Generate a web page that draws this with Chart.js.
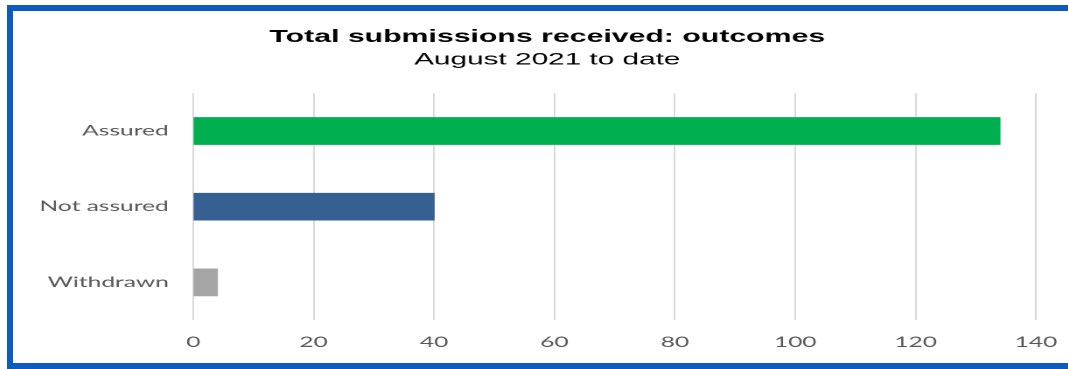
<!DOCTYPE html>
<html>
<head>
<meta charset="utf-8">
<script src="https://cdn.jsdelivr.net/npm/chart.js@4"></script>
<style>
  html, body { margin: 0; padding: 0; background: #fff; overflow: hidden; }
  #frame {
    position: absolute; left: 7px; top: 5px;
    width: 1100px; height: 352px;
    border: 6px solid #0B5CBE; border-right: none;
  }
  /* the source picture is stretched sideways, so the chart is too */
  #wrap {
    position: absolute; left: 0; top: 0;
    width: 603px; height: 352px;
    transform: scaleX(1.75); transform-origin: 0 0;
  }
</style>
</head>
<body>
<div id="frame">
  <div id="wrap"><canvas id="outcomesChart" width="603" height="352"></canvas></div>
</div>
<script>
const categories = ['Assured', 'Not assured', 'Withdrawn'];
const submissions = [134, 40, 4];
const barColours = ['#00B050', '#376092', '#A5A5A5'];

const tickFont = { family: 'Lato, "Open Sans", sans-serif', size: 14 };

// nudge the title block right a little, like the original
const titleShift = {
    id: 'titleShift',
    afterLayout(chart) {
        chart.boxes.forEach(function (box) {
            if (box.position === 'top' && box.options && box.options.text) {
                box.left = 26;
            }
        });
    }
};

const ctx = document.getElementById('outcomesChart').getContext('2d');
const outcomesChart = new Chart(ctx, {
    type: 'bar',
    data: {
        labels: categories,
        datasets: [{
            label: 'Submissions',
            data: submissions,
            backgroundColor: barColours,
            borderWidth: 0,
            barThickness: 27
        }]
    },
    options: {
        indexAxis: 'y',
        responsive: false,
        animation: false,
        devicePixelRatio: 2,
        layout: { padding: { left: 0, right: 18.4, top: 0, bottom: -2 } },
        plugins: {
            legend: { display: false },
            tooltip: { enabled: false },
            title: {
                display: true,
                text: 'Total submissions received: outcomes',
                color: '#000',
                font: { family: '"Liberation Sans", Arial, sans-serif', size: 17.3, weight: 'bold', lineHeight: 1.2 },
                padding: { top: 16, bottom: 0 }
            },
            subtitle: {
                display: true,
                text: 'August 2021 to date',
                color: '#000',
                font: { family: '"Liberation Sans", Arial, sans-serif', size: 17, lineHeight: 1.2 },
                padding: { top: 2, bottom: 23 }
            }
        },
        scales: {
            x: {
                min: 0,
                max: 140,
                ticks: { stepSize: 20, color: '#595959', font: tickFont, padding: 14 },
                grid: { color: '#D9D9D9', lineWidth: 1, drawTicks: false },
                border: { display: false },
                afterFit: function (scale) { scale.paddingLeft = 0; scale.paddingRight = 0; }
            },
            y: {
                ticks: { color: '#595959', font: tickFont, padding: 14 },
                grid: { display: false, drawTicks: false },
                border: { display: false },
                afterFit: function (scale) { scale.width = 103; }
            }
        }
    },
    plugins: [titleShift]
});
</script>
</body>
</html>
